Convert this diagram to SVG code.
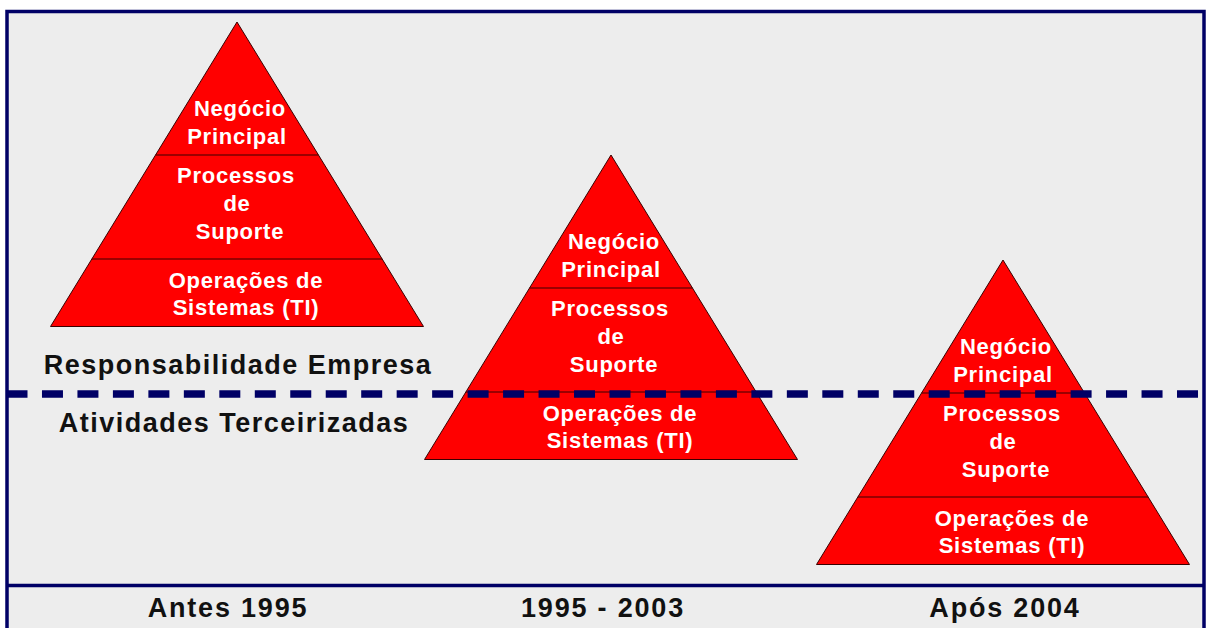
<svg xmlns="http://www.w3.org/2000/svg" width="1207" height="628" viewBox="0 0 1207 628">
  <style>
    .tri { fill: #FF0000; stroke: #3a0000; stroke-width: 1; }
    .div { stroke: #3a0000; stroke-width: 1.2; }
    .pt { font-family: "Liberation Sans", Arial, sans-serif; font-weight: bold; font-size: 22px; fill: #FFFFFF; text-anchor: middle; letter-spacing: 0.75px; }
    .lbl { font-family: "Liberation Sans", Arial, sans-serif; font-weight: bold; font-size: 27px; fill: #111111; text-anchor: middle; letter-spacing: 1.5px; }
    .yr { font-family: "Liberation Sans", Arial, sans-serif; font-weight: bold; font-size: 27px; fill: #111111; text-anchor: middle; letter-spacing: 1.8px; }
  </style>
  <rect x="0" y="0" width="1207" height="628" fill="#FFFFFF"/>
  <rect id="frame" x="7" y="11.5" width="1197" height="640" fill="#EDEDED" stroke="#000066" stroke-width="3.5"/>

  <g id="pyramid-antes-1995" transform="translate(237,22)">
    <polygon class="tri" points="0,0 186.5,304.5 -186.5,304.5"/>
    <line class="div" x1="-81.5" y1="133" x2="81.5" y2="133"/>
    <line class="div" x1="-145.2" y1="237" x2="145.2" y2="237"/>
    <text class="pt" x="3" y="94">Negócio</text>
    <text class="pt" x="0" y="122">Principal</text>
    <text class="pt" x="-1" y="161">Processos</text>
    <text class="pt" x="0" y="189">de</text>
    <text class="pt" x="3" y="217">Suporte</text>
    <text class="pt" x="9" y="266">Operações de</text>
    <text class="pt" x="9" y="293">Sistemas (TI)</text>
  </g>
  <g id="pyramid-1995-2003" transform="translate(611,155)">
    <polygon class="tri" points="0,0 186.5,304.5 -186.5,304.5"/>
    <line class="div" x1="-81.5" y1="133" x2="81.5" y2="133"/>
    <line class="div" x1="-145.2" y1="237" x2="145.2" y2="237"/>
    <text class="pt" x="3" y="94">Negócio</text>
    <text class="pt" x="0" y="122">Principal</text>
    <text class="pt" x="-1" y="161">Processos</text>
    <text class="pt" x="0" y="189">de</text>
    <text class="pt" x="3" y="217">Suporte</text>
    <text class="pt" x="9" y="266">Operações de</text>
    <text class="pt" x="9" y="293">Sistemas (TI)</text>
  </g>
  <g id="pyramid-apos-2004" transform="translate(1003,260)">
    <polygon class="tri" points="0,0 186.5,304.5 -186.5,304.5"/>
    <line class="div" x1="-81.5" y1="133" x2="81.5" y2="133"/>
    <line class="div" x1="-145.2" y1="237" x2="145.2" y2="237"/>
    <text class="pt" x="3" y="94">Negócio</text>
    <text class="pt" x="0" y="122">Principal</text>
    <text class="pt" x="-1" y="161">Processos</text>
    <text class="pt" x="0" y="189">de</text>
    <text class="pt" x="3" y="217">Suporte</text>
    <text class="pt" x="9" y="266">Operações de</text>
    <text class="pt" x="9" y="293">Sistemas (TI)</text>
  </g>

  <g id="label-responsabilidade">
    <text class="lbl" x="238" y="374">Responsabilidade Empresa</text>
  </g>
  <g id="label-atividades">
    <text class="lbl" x="234" y="432">Atividades Terceirizadas</text>
  </g>

  <g id="connectors">
    <line x1="6.5" y1="394" x2="1203" y2="394" stroke="#000066" stroke-width="7.5" stroke-dasharray="21 14.47"/>
    <line x1="7" y1="585.5" x2="1204" y2="585.5" stroke="#000066" stroke-width="3.5"/>
  </g>

  <g id="label-antes-1995"><text class="yr" x="228" y="617">Antes 1995</text></g>
  <g id="label-1995-2003"><text class="yr" x="603" y="617">1995 - 2003</text></g>
  <g id="label-apos-2004"><text class="yr" x="1005" y="617">Após 2004</text></g>
</svg>
